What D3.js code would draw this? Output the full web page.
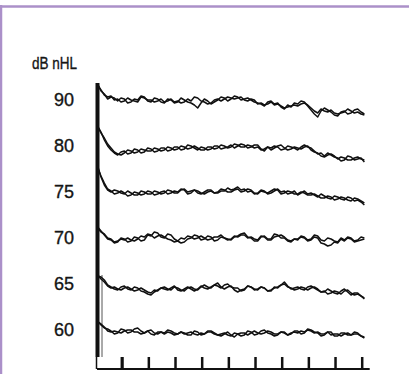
<!DOCTYPE html>
<html>
<head>
<meta charset="utf-8">
<script src="https://cdn.jsdelivr.net/npm/d3@7"></script>
<style>
    html, body { margin: 0; padding: 0; background: #fff; }
    svg { display: block; }
    text { font-family: "Liberation Sans", Arial, sans-serif; fill: #151515; stroke: #151515; stroke-width: 0.35; }
</style>
</head>
<body>
<svg class="abr" width="409" height="374"></svg>
<script>
// stimulus levels, top to bottom
var levels = [90, 80, 75, 70, 65, 60];
var yUnitLabel = "dB nHL";
var timeTicks = [1, 2, 3, 4, 5, 6, 7, 8, 9, 10];

// two repeated runs per level, one sample every 0.125 ms from 0.1 ms
// (amplitude offsets from the row baseline, positive = up)
var run90a = [16, 9, 6, 1, 3, 2, -1, 2, 1, -3, -2, 1, 0, 4, 3, -1, -2, 2, 1, -2, -3, 1, 0, -3, -2, 2, 0, -2, -3, -5, -8, -3, 1, -1, -4, -2, 0, 3, 2, -1, 1, 4, 3, 0, 1, 2, 0, -2, -3, -4, -6, -2, -1, -4, -3, -7, -9, -5, -7, -3, -4, -1, -2, -6, -10, -14, -17, -11, -8, -10, -12, -15, -16, -12, -11, -14, -13, -10, -9, -12, -14];
var run90b = [15, 10, 5, 3, 4, 0, 1, -2, -1, 2, 0, -1, -2, 3, 2, 0, 0, -2, -1, 1, -2, -1, 1, -2, -1, -3, -2, 1, -1, 3, 2, -1, -2, -4, -3, 0, 1, -1, 1, 3, 2, 1, 2, 3, 0, -1, 1, 0, -4, -3, -5, -4, -2, -5, -4, -6, -8, -7, -6, -5, -6, -4, -3, -5, -8, -11, -13, -9, -11, -12, -10, -13, -14, -13, -12, -9, -11, -13, -12, -14, -15];
var run80a = [20, 14, 6, 0, -4, -7, -9, -6, -5, -8, -7, -3, -4, -7, -6, -2, -3, -6, -5, -2, -2, -5, -4, -1, -1, -4, -3, 1, 0, -2, -4, -1, -2, -4, -3, 0, 0, -3, -2, -1, 1, -2, 0, 2, 1, -2, -1, 1, 1, -3, -5, -1, -2, 0, -1, -4, -3, 0, -1, -2, -4, -1, 1, -1, -2, -5, -8, -7, -10, -7, -9, -11, -12, -15, -14, -10, -11, -14, -13, -12, -16];
var run80b = [19, 13, 8, 2, -2, -6, -8, -9, -7, -4, -5, -7, -6, -3, -4, -5, -5, -2, -3, -5, -4, -1, -2, -4, -3, 0, -1, -3, -2, 0, -2, -4, -4, -1, -1, -3, -2, 1, 0, -2, -1, 2, 1, -1, -1, 1, 0, -2, -1, -4, -3, -1, -4, -2, 0, 1, -2, -4, -3, -1, -2, -3, -1, 0, -4, -6, -7, -10, -11, -9, -8, -10, -13, -11, -12, -14, -14, -12, -11, -13, -14];
var run75a = [26, 15, 7, 2, 0, 2, 1, -1, -2, 1, -1, -3, -3, 1, 0, -2, -2, 1, 0, -2, -1, 2, 1, -1, -1, 2, 3, 0, 1, 2, -1, -2, 0, 2, 2, -1, -1, 1, 1, 4, 2, 3, 5, 2, 3, 0, 1, -2, -1, 2, 1, -2, -1, 1, 3, 0, 1, -2, -1, 1, -3, -1, 1, -2, -1, -3, -5, -2, -4, -6, -7, -4, -5, -7, -8, -5, -6, -9, -8, -10, -13];
var run75b = [24, 16, 9, 3, 1, -2, -1, 1, -1, -4, -3, 0, -1, -3, -2, 1, 0, -3, -2, 0, 1, -2, -1, 1, 0, 3, 2, -2, -1, 2, 1, -1, -2, 0, 1, -1, 0, 3, 2, 0, 0, 2, 3, 0, 1, 3, 2, -1, -2, 1, 0, -1, 1, 3, 2, -2, -1, 1, 0, -2, -2, 0, -1, -3, -3, -2, -4, -6, -6, -4, -5, -8, -7, -5, -6, -8, -9, -6, -7, -9, -11];
var run70a = [11, 7, 3, -1, -2, -5, -4, 0, -1, -4, -3, 1, 0, -3, -2, 3, 2, 6, 5, 1, 0, 4, 3, -1, -3, -5, -4, -1, 0, 3, 2, -2, -1, 2, 1, -3, -2, 1, 0, -1, -2, 1, 2, 4, 5, 1, 0, -3, -3, 1, 2, -1, -1, 4, 3, 0, 0, -3, -4, -1, -2, 2, 1, -2, -1, 3, 2, -2, -3, 0, -1, -3, -4, 0, -2, 1, 0, -3, -2, 1, 0];
var run70b = [10, 6, 4, 0, -1, -4, -3, -1, -2, 0, -2, -3, -1, 2, 1, 4, 3, 0, 2, 3, 1, -1, -2, -4, -3, 0, -1, 2, 1, -1, 0, 2, 0, -2, -1, 1, 1, 3, 0, -2, -1, 2, 1, 3, 3, 0, 1, -1, -2, 2, 1, -2, -2, 1, 2, 3, 1, -2, -3, -1, -1, 1, 0, -3, -2, 1, 0, -5, -6, -8, -7, -4, -5, -1, -3, 0, -1, -4, -3, -2, -1];
var run65a = [8, 7, 4, -1, -3, -5, -6, -3, -2, -5, -6, -3, -4, -7, -8, -10, -11, -8, -6, -4, -3, -5, -6, -3, -4, -6, -7, -4, -3, -5, -6, -3, -1, -3, -4, -1, 1, -3, -5, -3, -2, -6, -8, -6, -5, -2, -3, -5, -6, -3, -4, -7, -7, -3, -4, -1, 2, -2, -5, -4, -3, -5, -6, -3, -2, -4, -6, -8, -8, -5, -7, -9, -10, -7, -5, -8, -11, -9, -9, -12, -15];
var run65b = [9, 5, 2, -2, -4, -3, -5, -6, -4, -3, -5, -7, -6, -4, -6, -8, -9, -6, -7, -4, -5, -6, -4, -2, -6, -7, -5, -3, -5, -7, -5, -2, -4, -5, -3, -1, -2, -4, -1, 0, -3, -4, -4, -7, -6, -2, -3, -6, -5, -3, -4, -7, -6, -4, -3, -1, 0, -3, -4, -6, -5, -3, -4, -6, -4, -3, -5, -8, -7, -10, -9, -7, -8, -10, -7, -6, -9, -11, -10, -12, -14];
var run60a = [9, 5, 2, 1, -1, -4, -3, 1, 0, -3, -2, 1, 2, -1, -3, -1, 0, -3, -4, -2, -3, 0, -1, -3, -4, -2, -3, -5, -5, -1, -2, -5, -4, -1, -1, -3, -5, -4, -3, -5, -6, -3, -4, -6, -5, -1, -2, -5, -4, -1, 0, -3, -4, -6, -5, -2, -2, -5, -4, -1, -1, -4, -3, 1, 0, -2, -3, -6, -5, -2, -2, -6, -6, -3, -3, -5, -5, -2, -3, -6, -8];
var run60b = [8, 6, 3, -1, -2, -1, -2, -3, -1, 0, 0, -2, -2, -4, -3, -1, -4, -5, -2, -2, -4, -2, -3, -5, -4, -2, -4, -3, -2, -4, -5, -3, -4, -2, -2, -4, -5, -6, -4, -2, -5, -7, -4, -3, -3, -5, -3, -1, -3, -4, -3, -1, -2, -4, -4, -2, -3, -5, -3, -2, -3, -1, -2, 0, -1, -3, -2, -4, -4, -2, -5, -4, -4, -6, -4, -3, -5, -4, -4, -6, -7];

var runs = [
    [run90a, run90b],
    [run80a, run80b],
    [run75a, run75b],
    [run70a, run70b],
    [run65a, run65b],
    [run60a, run60b]
];

var svg = d3.select("svg.abr");
var W = 409, H = 374;
var sampleStep = 0.125, firstSample = 0.1;

var xScale = d3.scaleLinear().domain([0, 10]).range([95, 361.7]);
var rowScale = d3.scalePoint().domain(levels).range([100, 330]);
var ampScale = d3.scaleLinear().domain([-20, 20]).range([20, -20]);
var axisY = 369;

// frame
svg.append("line")
    .attr("x1", 0).attr("x2", W)
    .attr("y1", 6.5).attr("y2", 6.5)
    .attr("stroke", "#ab90c9")
    .attr("stroke-width", 2.5);
svg.append("line")
    .attr("x1", 1).attr("x2", 1)
    .attr("y1", 5).attr("y2", H)
    .attr("stroke", "#ab90c9")
    .attr("stroke-width", 2.5);

// unit label and level labels
svg.append("text")
    .attr("x", 32)
    .attr("y", 69)
    .attr("font-size", 17)
    .attr("textLength", 45)
    .attr("lengthAdjust", "spacingAndGlyphs")
    .text(yUnitLabel);

svg.selectAll("text.level")
    .data(levels)
    .enter()
    .append("text")
    .classed("level", true)
    .attr("x", 74)
    .attr("y", function (d) { return rowScale(d); })
    .attr("dy", "0.36em")
    .attr("text-anchor", "end")
    .attr("font-size", 18)
    .text(function (d) { return d; });

// time axis along the bottom
var xAxis = d3.axisBottom(xScale)
    .tickValues(timeTicks)
    .tickSizeInner(-12)
    .tickSizeOuter(0)
    .tickFormat("");
var axisG = svg.append("g")
    .attr("transform", "translate(0," + axisY + ")")
    .call(xAxis);
axisG.select("path.domain")
    .attr("d", "M" + (xScale(0) + 2) + ",0H" + (xScale(10) + 8))
    .attr("stroke", "#111")
    .attr("stroke-width", 2);
axisG.selectAll(".tick line")
    .attr("stroke", "#111")
    .attr("stroke-width", function (d, i) { return i === 0 ? 3.2 : 2.5; });

// stimulus onset bar
var onsetX = xScale(0) + 2.5;
svg.append("line")
    .attr("x1", onsetX).attr("x2", onsetX)
    .attr("y1", rowScale(levels[0]) - 17)
    .attr("y2", axisY - 12)
    .attr("stroke", "#111")
    .attr("stroke-width", 4);
svg.append("line")
    .attr("x1", onsetX - 1).attr("x2", onsetX - 1)
    .attr("y1", axisY - 12)
    .attr("y2", axisY)
    .attr("stroke", "#111")
    .attr("stroke-width", 1.5);
// artefact edge on the two lowest rows
svg.append("line")
    .attr("x1", onsetX + 4.5).attr("x2", onsetX + 4.5)
    .attr("y1", rowScale(65) - 9)
    .attr("y2", axisY - 12)
    .attr("stroke", "#555")
    .attr("stroke-width", 1);

// traces
var line = d3.line()
    .x(function (d) { return xScale(d.t); })
    .y(function (d) { return d.y; })
    .curve(d3.curveLinear);

levels.forEach(function (level, li) {
    var rowY = rowScale(level);
    runs[li].forEach(function (run) {
        var pts = run.map(function (v, i) {
            return { t: firstSample + sampleStep * i, y: rowY + ampScale(v) };
        });
        svg.append("path")
            .datum(pts)
            .attr("d", line)
            .attr("fill", "none")
            .attr("stroke", "#111")
            .attr("stroke-width", 1.5)
            .attr("stroke-linejoin", "round");
    });
});
</script>
</body>
</html>
